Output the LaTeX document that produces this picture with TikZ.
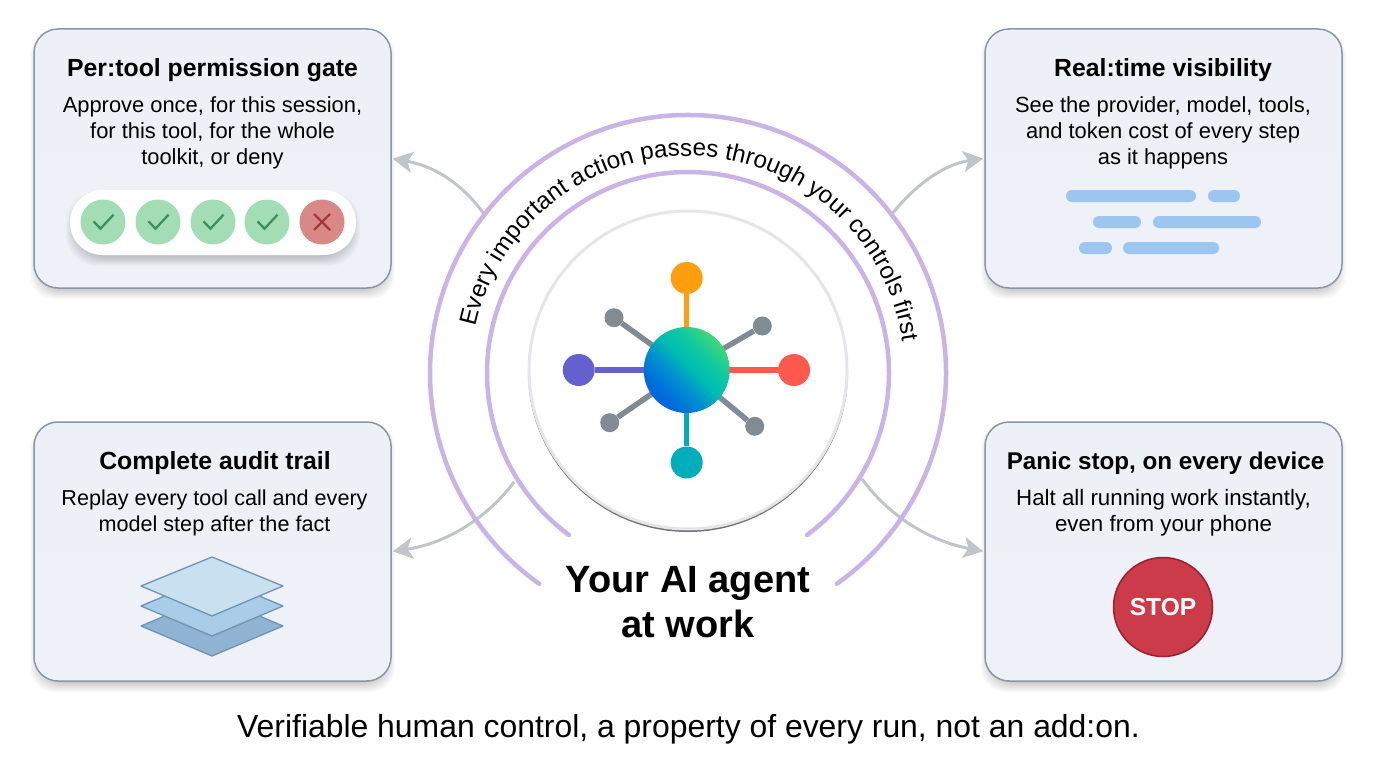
\documentclass[tikz,border=0pt]{standalone}
\usepackage{fontspec}
\setmainfont{Liberation Sans}
\usetikzlibrary{calc,arrows.meta,decorations.text,shapes.geometric}
\definecolor{boxline}{HTML}{8896A8}
\definecolor{boxtop}{HTML}{EDF0F6}
\definecolor{boxbot}{HTML}{EEF1F7}
\definecolor{arcpurple}{HTML}{C9B4E8}
\definecolor{arrowgrey}{HTML}{BFC5CB}
\definecolor{spokegrey}{HTML}{808B94}
\definecolor{okfill}{HTML}{A3DDB6}
\definecolor{okink}{HTML}{3F8F5C}
\definecolor{nofill}{HTML}{D98888}
\definecolor{noink}{HTML}{A63A3A}
\definecolor{barblue}{HTML}{9CC6F0}
\definecolor{orangeN}{HTML}{FF9F10}
\definecolor{tealN}{HTML}{00ADBB}
\definecolor{purpleN}{HTML}{6460CE}
\definecolor{redN}{HTML}{FF584C}
\definecolor{layeredge}{HTML}{6F93B0}
\definecolor{layerA}{HTML}{C8E0F0}
\definecolor{layerB}{HTML}{A9CDE9}
\definecolor{layerC}{HTML}{8FB3D2}
\definecolor{stopred}{HTML}{CC3B4A}
\definecolor{stopedge}{HTML}{9A2030}
\definecolor{discline}{HTML}{E4E6EA}
\definecolor{hubA}{HTML}{0068DC}
\definecolor{hubAB}{HTML}{0090D0}
\definecolor{hubB}{HTML}{00BDB2}
\definecolor{hubBC}{HTML}{10C8A0}
\definecolor{hubC}{HTML}{3DD67A}
\pgfdeclareverticalshading{hubshade}{100bp}{color(0bp)=(hubA); color(29bp)=(hubA); color(42bp)=(hubAB); color(53bp)=(hubB); color(63bp)=(hubBC); color(74bp)=(hubC); color(100bp)=(hubC)}
\tikzset{
  x=1pt,y=-1pt,
  cardbox/.style={draw=boxline,line width=1.5pt,rounded corners=24pt,top color=boxtop,bottom color=boxbot,minimum width=357pt,minimum height=259pt,inner sep=0pt},
  cardtitle/.style={font=\fontsize{24.8}{30}\bfseries\selectfont,align=center,inner sep=0pt},
  cardbody/.style={font=\fontsize{21.9}{26}\selectfont,align=center,inner sep=0pt},
  flow/.style={draw=arrowgrey,line width=3pt,-{Stealth[length=20pt,width=21pt,inset=5pt]},shorten >=1pt},
  ring/.style={draw=arcpurple,line width=4.5pt,line cap=round},
  tick/.style={circle,fill=okfill,minimum size=45pt,inner sep=0pt},
  cross/.style={circle,fill=nofill,minimum size=45pt,inner sep=0pt},
  tickmark/.style={draw=okink,line width=2.3pt},
  crossmark/.style={draw=noink,line width=2.3pt},
  bar/.style={fill=barblue,rounded corners=6pt},
  bignode/.style={circle,minimum size=32pt,inner sep=0pt},
  smallnode/.style={circle,fill=spokegrey,minimum size=19pt,inner sep=0pt},
  layer/.style={draw=layeredge,line width=1.3pt,line join=round},
}
\newcommand{\softshadow}[5]{%
  \foreach \i in {0,...,9}{%
    \fill[black,opacity=0.018,rounded corners=#5]
      ({#1+5-\i},{#2+10-\i}) rectangle ({#3-5+\i},{#4+\i+2});
  }}
\newcommand{\okmark}[1]{\draw[tickmark] ($(#1)+(-9.5,-0.7)$) -- ($(#1)+(-2.5,6.7)$) -- ($(#1)+(10.5,-7.3)$);}
\begin{document}
\begin{tikzpicture}
\useasboundingbox (0,0) rectangle (1376,768);
\fill[white] (0,0) rectangle (1376,768);
\coordinate (c) at (688,373);
\coordinate (hubc) at (686.7,370);

% card shadows
\softshadow{34}{29}{391}{288}{24pt}
\softshadow{985}{29}{1342}{288}{24pt}
\softshadow{34}{422}{391}{681}{24pt}
\softshadow{985}{422}{1342}{681}{24pt}

% cards
\node[cardbox] (perm) at (212.5,158.5) {};
\node[cardbox] (real) at (1163.5,158.5) {};
\node[cardbox] (audit) at (212.5,551.5) {};
\node[cardbox] (panic) at (1163.5,551.5) {};

\node[cardtitle] (permT) at (212.5,70) {Per:tool permission gate};
\node[cardbody] (permB) at (212.5,132.5) {Approve once, for this session,\\for this tool, for the whole\\toolkit, or deny};
\node[cardtitle] (realT) at (1163,70) {Real:time visibility};
\node[cardbody] (realB) at (1163,132.5) {See the provider, model, tools,\\and token cost of every step\\as it happens};
\node[cardtitle] (auditT) at (215,463) {Complete audit trail};
\node[cardbody,font=\fontsize{21.6}{26}\selectfont] (auditB) at (214.5,512.5) {Replay every tool call and every\\model step after the fact};
\node[cardtitle,font=\fontsize{24.2}{30}\bfseries\selectfont] (panicT) at (1165.5,463) {Panic stop, on every device};
\node[cardbody,font=\fontsize{22.3}{26}\selectfont] (panicB) at (1163.5,512.5) {Halt all running work instantly,\\even from your phone};

% approval pill
\softshadow{70}{190}{356}{255}{32pt}
\fill[white,rounded corners=32.4pt] (70,190) rectangle (356,255);
\node[tick] (a1) at (103,222) {};
\node[tick] (a2) at (158,222) {};
\node[tick] (a3) at (213,222) {};
\node[tick] (a4) at (267,222) {};
\node[cross] (a5) at (322,222) {};
\okmark{a1}\okmark{a2}\okmark{a3}\okmark{a4}
\draw[crossmark] ($(a5)+(-8,-8)$) -- ($(a5)+(8,8)$);
\draw[crossmark] ($(a5)+(8,-8)$) -- ($(a5)+(-8,8)$);

% activity bars
\fill[bar] (1066,190) rectangle (1196,202);
\fill[bar] (1208,190) rectangle (1240,202);
\fill[bar] (1093,216) rectangle (1141,228);
\fill[bar] (1153,216) rectangle (1261,228);
\fill[bar] (1079,242) rectangle (1112,254);
\fill[bar] (1123,242) rectangle (1219,254);

% layers
\filldraw[layer,fill=layerC] (141,626) -- (212,596) -- (283,626) -- (212,656) -- cycle;
\filldraw[layer,fill=layerB] (141,606) -- (212,576) -- (283,606) -- (212,636) -- cycle;
\filldraw[layer,fill=layerA] (141,586) -- (212,557) -- (283,586) -- (212,616) -- cycle;

% stop
\node[circle,fill=stopred,draw=stopedge,line width=1.5pt,minimum size=99pt,inner sep=0pt,text=white,font=\fontsize{24.5}{30}\bfseries\selectfont] (stop) at (1163,607) {STOP};

% connectors
\coordinate (s1) at (484,214);
\coordinate (s2) at (892,214);
\coordinate (s3) at (514,482);
\coordinate (s4) at (862,479);
\draw[flow] (s1) .. controls (458,178) and (428,165) .. (perm.east);
\draw[flow] (s2) .. controls (916,184) and (945,164) .. (real.west);
\draw[flow] (s3) .. controls (488,517) and (448,543) .. (audit.east);
\draw[flow] (s4) .. controls (890,517) and (930,541) .. (panic.west);

% central disc
\fill[black!55] (688,372) circle[radius=160pt];
\draw[draw=discline,fill=white,line width=3pt] (688,370) circle[radius=159pt];

% rings
\draw[ring] ($(c)+(-53.7:201pt)$) arc[start angle=-53.7,end angle=233.7,radius=201pt];
\draw[ring] ($(c)+(-54.8:258pt)$) arc[start angle=-54.8,end angle=234.8,radius=258pt];

% curved label
\path[decorate,decoration={text along path,text align=center,
  text={|\fontsize{24.2}{30}\selectfont|Every important action passes through your controls first}}]
  ($(c)+(174:217pt)$) arc[start angle=174,end angle=2,radius=217pt];

% hub spokes
\node[bignode,fill=orangeN] (nTop) at (686.7,278) {};
\node[bignode,fill=tealN] (nBot) at (686.7,462.5) {};
\node[bignode,fill=purpleN] (nLeft) at (578.7,370) {};
\node[bignode,fill=redN] (nRight) at (794,370) {};
\node[smallnode] (nUL) at (614,317.7) {};
\node[smallnode] (nUR) at (762.3,326) {};
\node[smallnode] (nLL) at (609.7,422.7) {};
\node[smallnode] (nLR) at (754.7,426.3) {};
\draw[orangeN,line width=5.5pt] (nTop) -- (hubc);
\draw[tealN,line width=5.5pt] (nBot) -- (hubc);
\draw[purpleN,line width=5.5pt] (nLeft) -- (hubc);
\draw[redN,line width=5.5pt] (nRight) -- (hubc);
\draw[spokegrey,line width=5.5pt] (nUL) -- (hubc);
\draw[spokegrey,line width=5.5pt] (nUR) -- (hubc);
\draw[spokegrey,line width=5.5pt] (nLL) -- (hubc);
\draw[spokegrey,line width=5.5pt] (nLR) -- (hubc);
\node[circle,minimum size=86pt,inner sep=0pt,shading=hubshade,shading angle=-45] (hub) at (hubc) {};

% headings
\node[font=\fontsize{38}{45}\bfseries\selectfont,align=center,inner sep=0pt] (head) at (688,602) {Your AI agent\\at work};
\node[font=\fontsize{31.9}{38}\selectfont,inner sep=0pt] (foot) at (688.5,729) {Verifiable human control, a property of every run, not an add:on.};
\end{tikzpicture}
\end{document}
